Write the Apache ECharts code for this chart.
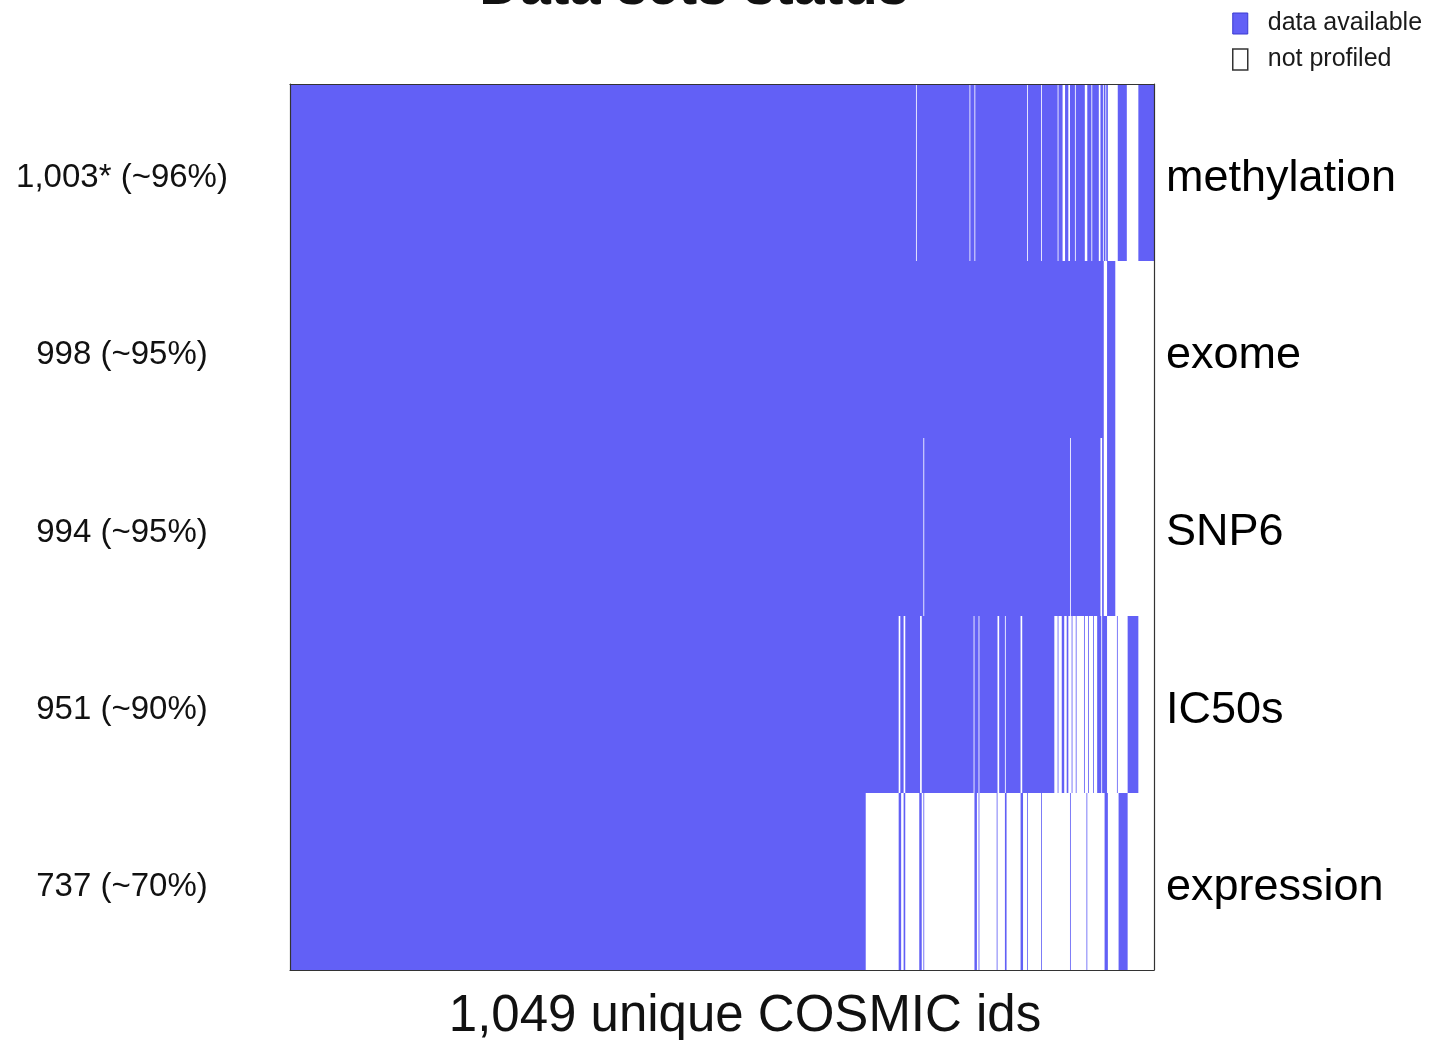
<!DOCTYPE html>
<html>
<head>
<meta charset="utf-8">
<title>Data sets status</title>
<script src="https://cdn.jsdelivr.net/npm/echarts@6/dist/echarts.min.js"></script>
<style>
  html, body { margin: 0; padding: 0; background: #fff; }
  #chart { width: 1429px; height: 1040px; }
</style>
</head>
<body>
<div id="chart"></div>
<script>
// Cell lines (COSMIC ids) along x, one row per data set.
const TOTAL_IDS = 1049;
const datasetNames = ['methylation', 'exome', 'SNP6', 'IC50s', 'expression'];
const countLabels = ['1,003* (~96%)', '998 (~95%)', '994 (~95%)', '951 (~90%)', '737 (~70%)'];

// Ids that were not profiled, as inclusive [first, last] column runs.
const methylationMissing = [[760, 760], [825, 825], [831, 831], [895, 895], [912, 912], [932, 932],
  [938, 940], [945, 946], [953, 953], [965, 967], [973, 973], [982, 983], [987, 987], [990, 990],
  [993, 1004], [1016, 1029]];
const exomeMissing = [[988, 991], [1002, 1048]];
const snp6Missing = [[769, 769], [947, 947], [984, 985], [988, 991], [1002, 1048]];
const ic50Missing = [[739, 740], [745, 746], [765, 766], [830, 830], [836, 836], [859, 860],
  [868, 868], [887, 888], [928, 931], [933, 936], [940, 942], [945, 948], [950, 953], [955, 963],
  [965, 968], [970, 974], [976, 979], [985, 985], [992, 1003], [1005, 1016], [1030, 1048]];
const expressionMissing = [[699, 738], [742, 744], [747, 763], [767, 768], [770, 830], [834, 835],
  [837, 857], [859, 867], [870, 886], [890, 894], [896, 911], [913, 946], [948, 966], [968, 988],
  [993, 1005], [1017, 1048]];

const missingByRow = [methylationMissing, exomeMissing, snp6Missing, ic50Missing, expressionMissing];

// Split every row into [start, endExclusive, row] runs of available / not profiled ids.
const availableRuns = [];
const missingRuns = [];
missingByRow.forEach(function (runs, row) {
  let cursor = 0;
  runs.forEach(function (r) {
    if (r[0] > cursor) availableRuns.push([cursor, r[0], row]);
    missingRuns.push([r[0], r[1] + 1, row]);
    cursor = r[1] + 1;
  });
  if (cursor < TOTAL_IDS) availableRuns.push([cursor, TOTAL_IDS, row]);
});

function renderRun(params, api) {
  const row = api.value(2);
  const p0 = api.coord([api.value(0), row]);
  const p1 = api.coord([api.value(1), row]);
  const h = api.size([0, 1])[1];
  const y0 = Math.round(p0[1] - h / 2);
  const y1 = Math.round(p0[1] + h / 2);
  return {
    type: 'rect',
    shape: { x: p0[0], y: y0, width: p1[0] - p0[0], height: y1 - y0 },
    style: { fill: api.visual('color') }
  };
}

// Row labels sit a little below the row centre: an empty first line of small height.
function lowered(v) { return '\n' + v; }

const FONT = 'Liberation Sans';
const BLUE = '#6260F6';

const chart = echarts.init(document.getElementById('chart'), null, { renderer: 'canvas' });
chart.setOption({
  backgroundColor: '#fff',
  animation: false,
  textStyle: { fontFamily: FONT },
  grid: { left: 290, top: 84, width: 864, height: 886, containLabel: false, outerBoundsMode: 'none' },
  graphic: [{
    type: 'text',
    x: 694,
    y: -11,
    style: {
      text: 'Data sets status',
      font: 'bold 56px "Liberation Sans"',
      fill: '#111',
      align: 'center',
      verticalAlign: 'middle'
    }
  }],
  legend: {
    orient: 'vertical',
    left: 1232,
    top: 11,
    padding: 0,
    itemWidth: 15,
    itemHeight: 21,
    itemGap: 11,
    selectedMode: false,
    textStyle: { fontSize: 25, color: '#1a1a1a', fontFamily: FONT, padding: [0, 0, 0, 15] },
    data: [
      { name: 'data available', icon: 'rect', itemStyle: { color: BLUE, borderColor: '#3a3ad0', borderWidth: 1 } },
      { name: 'not profiled', icon: 'rect', itemStyle: { color: '#fff', borderColor: '#333', borderWidth: 1.5 } }
    ]
  },
  xAxis: [{
    type: 'value',
    min: 0,
    max: TOTAL_IDS,
    position: 'bottom',
    z: 10,
    axisLine: { show: true, lineStyle: { color: '#333', width: 1.2 } },
    axisTick: { show: false },
    axisLabel: { show: false },
    splitLine: { show: false },
    name: '1,049 unique COSMIC ids',
    nameLocation: 'middle',
    nameGap: 21,
    nameTextStyle: { fontSize: 51, color: '#111', fontFamily: FONT, padding: [0, 0, 0, 46] }
  }, {
    type: 'value',
    min: 0,
    max: TOTAL_IDS,
    position: 'top',
    z: 10,
    axisLine: { show: true, onZero: false, lineStyle: { color: '#333', width: 1.2 } },
    axisTick: { show: false },
    axisLabel: { show: false },
    splitLine: { show: false }
  }],
  yAxis: [{
    type: 'category',
    data: countLabels,
    inverse: true,
    position: 'left',
    z: 10,
    axisLine: { show: true, onZero: false, lineStyle: { color: '#333', width: 1.2 } },
    axisTick: { show: false },
    axisLabel: {
      interval: 0, fontSize: 33, color: '#111', fontFamily: FONT,
      align: 'center', margin: 168, lineHeight: 11, formatter: lowered
    },
    splitLine: { show: false }
  }, {
    type: 'category',
    data: datasetNames,
    inverse: true,
    position: 'right',
    z: 10,
    axisLine: { show: true, onZero: false, lineStyle: { color: '#333', width: 1.2 } },
    axisTick: { show: false },
    axisLabel: {
      interval: 0, fontSize: 45, color: '#000', fontFamily: FONT,
      margin: 12, lineHeight: 12, formatter: lowered
    },
    splitLine: { show: false }
  }],
  series: [{
    name: 'not profiled',
    type: 'custom',
    xAxisIndex: 0,
    yAxisIndex: 0,
    itemStyle: { color: '#fff' },
    renderItem: renderRun,
    encode: { x: [0, 1], y: 2 },
    data: missingRuns
  }, {
    name: 'data available',
    type: 'custom',
    xAxisIndex: 0,
    yAxisIndex: 0,
    itemStyle: { color: BLUE },
    renderItem: renderRun,
    encode: { x: [0, 1], y: 2 },
    data: availableRuns
  }]
});
</script>
</body>
</html>
